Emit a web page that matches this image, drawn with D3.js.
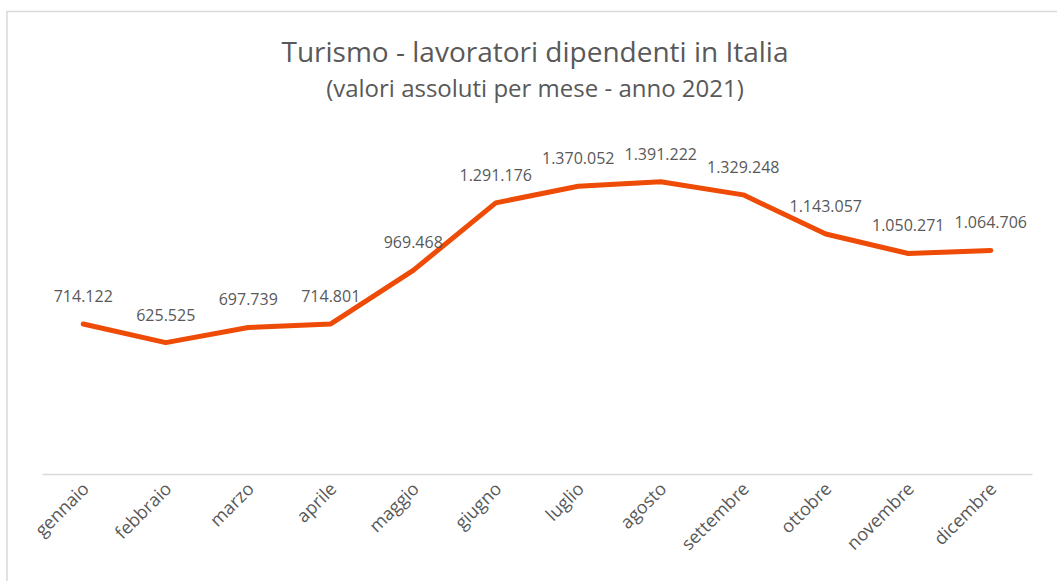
<!DOCTYPE html>
<html>
<head>
<meta charset="utf-8">
<script src="https://cdn.jsdelivr.net/npm/d3@7"></script>
<style>
  body { margin: 0; background: #fff; }
  text { font-family: "Open Sans", sans-serif; fill: #595959; }
</style>
</head>
<body>
<svg id="chart" width="1057" height="581"></svg>
<script>
// months and values (workers in tourism, 2021)
const months = ["gennaio", "febbraio", "marzo", "aprile", "maggio", "giugno",
  "luglio", "agosto", "settembre", "ottobre", "novembre", "dicembre"];
const workers = [714122, 625525, 697739, 714801, 969468, 1291176,
  1370052, 1391222, 1329248, 1143057, 1050271, 1064706];
const yDomain = [0, 1600000];
const titleText = "Turismo - lavoratori dipendenti in Italia";
const subtitleText = "(valori assoluti per mese - anno 2021)";

const svg = d3.select("#chart");

// chart border
svg.append("rect")
  .attr("x", 7).attr("y", 11.5)
  .attr("width", 1070).attr("height", 600)
  .attr("fill", "none")
  .attr("stroke", "#d9d9d9")
  .attr("stroke-width", 1.5);

const x = d3.scaleBand().domain(months).range([42, 1032]);
const y = d3.scaleLinear().domain(yDomain).range([474, 138]);

// titles
svg.append("text")
  .attr("x", 535).attr("y", 62)
  .attr("text-anchor", "middle")
  .style("font-size", "28px")
  .text(titleText);
svg.append("text")
  .attr("x", 535).attr("y", 97)
  .attr("text-anchor", "middle")
  .style("font-size", "24px")
  .text(subtitleText);

// x axis
const xAxis = svg.append("g")
  .attr("transform", "translate(0,474)")
  .call(d3.axisBottom(x).tickSize(0).tickPadding(0));
xAxis.select(".domain").attr("stroke", "#d9d9d9").attr("stroke-width", 1.5);
xAxis.selectAll("text")
  .attr("text-anchor", "end")
  .attr("dy", 0)
  .attr("transform", "translate(7,16) rotate(-45)")
  .style("font-size", "18px")
  .style("font-family", "'Open Sans', sans-serif")
  .attr("fill", "#595959");

// line
const cx = d => x(d) + x.bandwidth() / 2;
const line = d3.line()
  .x((d, i) => cx(months[i]))
  .y(d => y(d));

svg.append("path")
  .datum(workers)
  .attr("fill", "none")
  .attr("stroke", "#EE4B06")
  .attr("stroke-width", 5)
  .attr("stroke-linejoin", "round")
  .attr("stroke-linecap", "round")
  .attr("d", line);

// data labels
const fmt = d3.formatLocale({ decimal: ",", thousands: ".", grouping: [3], currency: ["", ""] }).format(",d");
svg.selectAll(".lbl")
  .data(workers)
  .enter().append("text")
  .attr("class", "lbl")
  .attr("x", (d, i) => cx(months[i]))
  .attr("y", d => y(d) - 22)
  .attr("text-anchor", "middle")
  .style("font-size", "16px")
  .text(d => fmt(d));
</script>
</body>
</html>
